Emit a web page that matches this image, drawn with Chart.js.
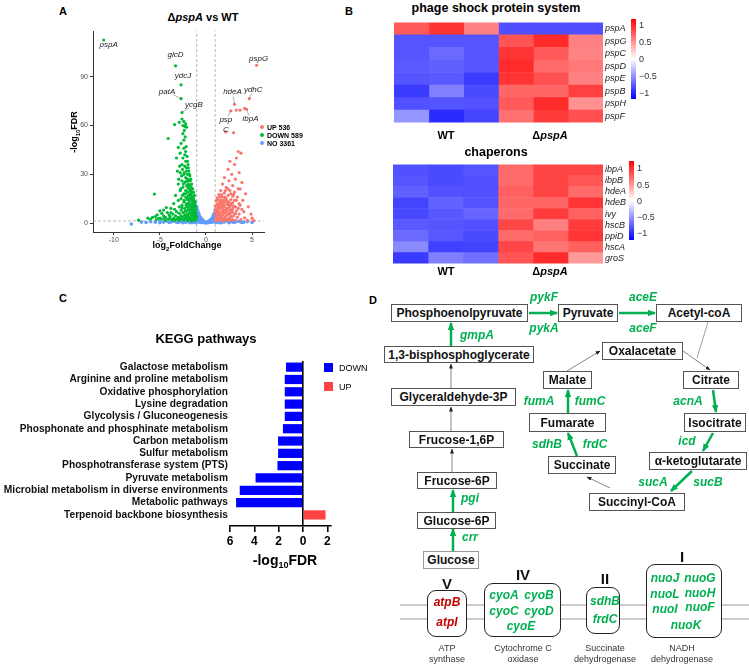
<!DOCTYPE html>
<html>
<head>
<meta charset="utf-8">
<script src="https://cdn.jsdelivr.net/npm/chart.js@4.4.1/dist/chart.umd.min.js"></script>
<style>
  body { margin: 0; background: #fff; font-family: "Liberation Sans", Arial, sans-serif; }
  #page { position: relative; width: 749px; height: 668px; overflow: hidden; }
  .abs { position: absolute; }
  .c { position: absolute; transform: translate(-50%, -50%); white-space: nowrap; }
  .lt { position: absolute; transform: translate(0, -50%); white-space: nowrap; }
  .tag { font-weight: bold; font-size: 11px; }
  .box { position: absolute; box-sizing: border-box; border: 1px solid #555; background: #fff;
         display: flex; align-items: center; justify-content: center; font-weight: bold; font-size: 12px; color: #111; }
  .gene { position: absolute; transform: translate(-50%, -50%); font-weight: bold; font-style: italic;
          font-size: 12px; color: #00B050; white-space: nowrap; }
  .cplx { position: absolute; box-sizing: border-box; border: 1.5px solid #222; border-radius: 9px; background: #fff; }
  .roman { position: absolute; transform: translate(-50%, -50%); font-weight: bold; font-size: 15px; color: #111; }
  .cap { position: absolute; transform: translate(-50%, 0); text-align: center; font-size: 9px; line-height: 11px; color: #333; white-space: nowrap; }
  .cb { position: absolute; width: 5px; }
  .cbl { position: absolute; font-size: 9px; color: #333; transform: translate(0, -50%); }
</style>
</head>
<body>
<div id="page">
  <!-- panel letters -->
  <div class="c tag" style="left:63px;top:11px;">A</div>
  <div class="c tag" style="left:349px;top:11px;">B</div>
  <div class="c tag" style="left:63px;top:298px;">C</div>
  <div class="c tag" style="left:373px;top:300px;">D</div>

  <!-- A: volcano -->
  <div class="c" style="left:203px;top:17px;font-size:11px;font-weight:bold;">&Delta;<i>pspA</i> vs WT</div>
  <div class="abs" style="left:30px;top:25px;width:245px;height:230px;"><canvas id="volcano"></canvas></div>
  <div class="c" style="left:75px;top:132px;transform:translate(-50%,-50%) rotate(-90deg);font-size:9px;font-weight:bold;">-log<sub style="font-size:6px;">10</sub>FDR</div>
  <div class="c" style="left:187px;top:246px;font-size:9px;font-weight:bold;">log<sub style="font-size:6px;">2</sub>FoldChange</div>
  <div class="abs" style="left:260px;top:125px;width:4px;height:4px;border-radius:2px;background:#F8766D;"></div>
  <div class="abs" style="left:260px;top:133px;width:4px;height:4px;border-radius:2px;background:#00BA38;"></div>
  <div class="abs" style="left:260px;top:141px;width:4px;height:4px;border-radius:2px;background:#619CFF;"></div>
  <div class="lt" style="left:267px;top:127px;font-size:7px;font-weight:bold;">UP 536</div>
  <div class="lt" style="left:267px;top:135px;font-size:7px;font-weight:bold;">DOWN 589</div>
  <div class="lt" style="left:267px;top:143px;font-size:7px;font-weight:bold;">NO 3361</div>

  <!-- B: heatmaps -->
  <div class="c" style="left:496px;top:8px;font-size:12.5px;font-weight:bold;">phage shock protein system</div>
  <div class="abs" style="left:390px;top:15px;width:260px;height:115px;"><canvas id="heatPsp"></canvas></div>
  <div class="c" style="left:446px;top:135px;font-size:11px;font-weight:bold;">WT</div>
  <div class="c" style="left:550px;top:135px;font-size:11px;font-weight:bold;">&Delta;<i>pspA</i></div>
  <div class="cb" style="left:631px;top:19px;height:80px;background:linear-gradient(#ff0000,#ffffff,#0000ff);"></div>
  <div class="cbl" style="left:639px;top:25px;">1</div>
  <div class="cbl" style="left:639px;top:42px;">0.5</div>
  <div class="cbl" style="left:639px;top:59px;">0</div>
  <div class="cbl" style="left:639px;top:76px;">&minus;0.5</div>
  <div class="cbl" style="left:639px;top:93px;">&minus;1</div>

  <div class="c" style="left:496px;top:152px;font-size:12.5px;font-weight:bold;">chaperons</div>
  <div class="abs" style="left:389px;top:157px;width:261px;height:114px;"><canvas id="heatChap"></canvas></div>
  <div class="c" style="left:446px;top:271px;font-size:11px;font-weight:bold;">WT</div>
  <div class="c" style="left:550px;top:271px;font-size:11px;font-weight:bold;">&Delta;<i>pspA</i></div>
  <div class="cb" style="left:629px;top:161px;height:79px;background:linear-gradient(#ff0000,#ffffff,#0000ff);"></div>
  <div class="cbl" style="left:637px;top:168px;">1</div>
  <div class="cbl" style="left:637px;top:185px;">0.5</div>
  <div class="cbl" style="left:637px;top:201px;">0</div>
  <div class="cbl" style="left:637px;top:217px;">&minus;0.5</div>
  <div class="cbl" style="left:637px;top:233px;">&minus;1</div>

  <!-- C: KEGG bars -->
  <div class="c" style="left:206px;top:338px;font-size:13px;font-weight:bold;">KEGG pathways</div>
  <div class="abs" style="left:0px;top:350px;width:345px;height:230px;"><canvas id="kegg"></canvas></div>
  <div class="c" style="left:285px;top:561px;font-size:14px;font-weight:bold;">-log<sub style="font-size:9px;">10</sub>FDR</div>
  <div class="abs" style="left:324px;top:363px;width:9px;height:9px;background:#0000FF;"></div>
  <div class="abs" style="left:324px;top:382px;width:9px;height:9px;background:#FF4343;"></div>
  <div class="lt" style="left:339px;top:368px;font-size:9px;">DOWN</div>
  <div class="lt" style="left:339px;top:387px;font-size:9px;">UP</div>

  <!-- D: pathway diagram -->
  <svg class="abs" style="left:0;top:0;" width="749" height="668">
    <defs>
      <marker id="gh" markerUnits="userSpaceOnUse" markerWidth="8" markerHeight="8" refX="7" refY="4" orient="auto">
        <path d="M0,0.8 L8,4 L0,7.2 Z" fill="#00B050"/>
      </marker>
      <marker id="kh" markerUnits="userSpaceOnUse" markerWidth="5" markerHeight="5" refX="4.5" refY="2.5" orient="auto">
        <path d="M0,0.5 L5,2.5 L0,4.5 Z" fill="#222"/>
      </marker>
    </defs>
    <line x1="400" y1="605" x2="749" y2="605" stroke="#999" stroke-width="1"/>
    <line x1="400" y1="619" x2="749" y2="619" stroke="#999" stroke-width="1"/>
    <g stroke="#00B050" stroke-width="2.5" marker-end="url(#gh)">
      <line x1="529" y1="313" x2="557" y2="313"/>
      <line x1="619" y1="313" x2="655" y2="313"/>
      <line x1="451" y1="346" x2="451" y2="323"/>
      <line x1="453" y1="512" x2="453" y2="490"/>
      <line x1="453" y1="551" x2="453" y2="529"/>
      <line x1="713" y1="390" x2="716" y2="412"/>
      <line x1="713" y1="433" x2="703" y2="451"/>
      <line x1="692" y1="471" x2="671" y2="491"/>
      <line x1="577" y1="456" x2="568" y2="433"/>
      <line x1="568" y1="413" x2="568" y2="390"/>
    </g>
    <g stroke="#555" stroke-width="0.7" marker-end="url(#kh)">
      <line x1="451" y1="388" x2="451" y2="364"/>
      <line x1="451" y1="431" x2="451" y2="407"/>
      <line x1="452" y1="472" x2="452" y2="449"/>
      <line x1="567" y1="371" x2="600" y2="351"/>
      <line x1="683" y1="351" x2="710" y2="370"/>
      <line x1="610" y1="488" x2="587" y2="477"/>
    </g>
    <line x1="708" y1="322" x2="697" y2="358" stroke="#777" stroke-width="0.7"/>
  </svg>

  <div class="box" style="left:391px;top:304px;width:137px;height:18px;">Phosphoenolpyruvate</div>
  <div class="box" style="left:558px;top:304px;width:60px;height:18px;">Pyruvate</div>
  <div class="box" style="left:656px;top:304px;width:86px;height:18px;">Acetyl-coA</div>
  <div class="box" style="left:384px;top:346px;width:150px;height:17px;">1,3-bisphosphoglycerate</div>
  <div class="box" style="left:602px;top:342px;width:81px;height:18px;">Oxalacetate</div>
  <div class="box" style="left:543px;top:371px;width:49px;height:18px;">Malate</div>
  <div class="box" style="left:683px;top:371px;width:56px;height:18px;">Citrate</div>
  <div class="box" style="left:391px;top:388px;width:125px;height:18px;">Glyceraldehyde-3P</div>
  <div class="box" style="left:529px;top:413px;width:77px;height:19px;">Fumarate</div>
  <div class="box" style="left:684px;top:413px;width:62px;height:19px;">Isocitrate</div>
  <div class="box" style="left:409px;top:431px;width:95px;height:17px;">Frucose-1,6P</div>
  <div class="box" style="left:548px;top:456px;width:68px;height:18px;">Succinate</div>
  <div class="box" style="left:649px;top:452px;width:98px;height:18px;">&alpha;-ketoglutarate</div>
  <div class="box" style="left:417px;top:472px;width:80px;height:17px;">Frucose-6P</div>
  <div class="box" style="left:589px;top:493px;width:96px;height:18px;">Succinyl-CoA</div>
  <div class="box" style="left:417px;top:512px;width:79px;height:17px;">Glucose-6P</div>
  <div class="box" style="left:423px;top:551px;width:56px;height:18px;border-color:#999;">Glucose</div>

  <div class="gene" style="left:544px;top:297px;">pykF</div>
  <div class="gene" style="left:544px;top:328px;">pykA</div>
  <div class="gene" style="left:643px;top:297px;">aceE</div>
  <div class="gene" style="left:643px;top:328px;">aceF</div>
  <div class="gene" style="left:477px;top:335px;">gmpA</div>
  <div class="gene" style="left:470px;top:498px;">pgi</div>
  <div class="gene" style="left:470px;top:537px;">crr</div>
  <div class="gene" style="left:688px;top:401px;">acnA</div>
  <div class="gene" style="left:687px;top:441px;">icd</div>
  <div class="gene" style="left:653px;top:482px;">sucA</div>
  <div class="gene" style="left:708px;top:482px;">sucB</div>
  <div class="gene" style="left:547px;top:444px;">sdhB</div>
  <div class="gene" style="left:595px;top:444px;">frdC</div>
  <div class="gene" style="left:539px;top:401px;">fumA</div>
  <div class="gene" style="left:590px;top:401px;">fumC</div>

  <div class="cplx" style="left:427px;top:590px;width:40px;height:47px;"></div>
  <div class="cplx" style="left:484px;top:583px;width:77px;height:54px;"></div>
  <div class="cplx" style="left:586px;top:587px;width:34px;height:47px;"></div>
  <div class="cplx" style="left:646px;top:564px;width:76px;height:74px;"></div>
  <div class="roman" style="left:447px;top:583px;">V</div>
  <div class="roman" style="left:523px;top:574px;">IV</div>
  <div class="roman" style="left:605px;top:578px;">II</div>
  <div class="roman" style="left:682px;top:556px;">I</div>
  <div class="gene" style="left:447px;top:602px;color:#C00000;">atpB</div>
  <div class="gene" style="left:447px;top:622px;color:#C00000;">atpI</div>
  <div class="gene" style="left:504px;top:595px;">cyoA</div>
  <div class="gene" style="left:539px;top:595px;">cyoB</div>
  <div class="gene" style="left:504px;top:611px;">cyoC</div>
  <div class="gene" style="left:539px;top:611px;">cyoD</div>
  <div class="gene" style="left:521px;top:626px;">cyoE</div>
  <div class="gene" style="left:605px;top:601px;">sdhB</div>
  <div class="gene" style="left:605px;top:619px;">frdC</div>
  <div class="gene" style="left:665px;top:578px;">nuoJ</div>
  <div class="gene" style="left:700px;top:578px;">nuoG</div>
  <div class="gene" style="left:665px;top:594px;">nuoL</div>
  <div class="gene" style="left:700px;top:593px;">nuoH</div>
  <div class="gene" style="left:665px;top:609px;">nuoI</div>
  <div class="gene" style="left:700px;top:607px;">nuoF</div>
  <div class="gene" style="left:686px;top:625px;">nuoK</div>
  <div class="cap" style="left:447px;top:643px;">ATP<br>synthase</div>
  <div class="cap" style="left:523px;top:643px;">Cytochrome C<br>oxidase</div>
  <div class="cap" style="left:605px;top:643px;">Succinate<br>dehydrogenase</div>
  <div class="cap" style="left:682px;top:643px;">NADH<br>dehydrogenase</div>
</div>

<script>
// ---------- A: volcano plot, points as [log2FC, -log10FDR]
const upPoints = [
  [5.5,97],[4.7,76.5],[4.4,70],[3.1,73],[2.7,69],[3.3,69.5],[3.7,69.5],[4.2,70.5],
  [2.15,56],[3.0,55.6],[3.5,44],[3.8,43],[3.3,40],[2.6,38],[3.1,36],[2.4,33],[3.6,31],[2.8,30],
  [2.0,28],[3.2,27],[2.5,26],[3.9,25],[1.8,24],[2.9,23],[2.2,22],[3.5,21],[3.7,21],[1.6,20],
  [2.6,20],[3.1,19],[2.0,18.5],[4.3,18],[1.4,17.5],[2.4,17],[2.9,16.5],[1.8,16],[3.4,16],
  [1.2,15.5],[2.2,15],[2.7,14.5],[1.6,14],[3.1,14],[4.0,14],[1.1,13.5],[2.0,13],[2.5,13],
  [1.4,12.5],[2.9,12.5],[3.6,12],[1.8,12],[1.2,11.5],[2.3,11.5],[1.6,11],[2.7,11],[3.7,11],
  [1.0,10.5],[2.0,10.5],[3.2,10],[1.4,10],[2.5,9.5],[1.8,9.5],[1.1,9],[2.2,9],[2.9,9],[3.9,8.5],
  [1.5,8.5],[1.9,8],[2.6,8],[1.2,7.5],[3.3,7.5],[1.7,7],[2.3,7],[2.9,6.5],[1.0,6.5],[1.5,6],
  [2.0,6],[2.6,5.5],[3.6,5.5],[4.9,5.5],[1.3,5],[1.8,5],[2.3,4.8],[3.0,4.5],[1.1,4.2],[1.6,4],
  [2.1,4],[2.7,3.8],[3.4,3.5],[4.2,3.2],[1.4,3.2],[1.9,3],[2.5,3],[1.2,2.6],[1.7,2.4],[2.2,2.4],
  [2.9,2.2],[3.8,2.2],[1.0,2],[1.5,1.8],[2.0,1.8],[2.6,1.7],[3.2,1.6],[4.5,1.6],[5.2,1.5],
  [1.3,1.5],[1.8,1.5],[2.4,1.5],[1.25,8],[1.45,9.5],[1.65,12.5],[1.85,14],[2.05,16],[2.25,13.5],
  [2.45,11],[2.65,6.5],[2.85,8],[1.35,6.8],[1.55,4.6],[1.75,10],[1.95,11.5],[2.15,7.5],[2.35,5.5],
  [2.55,10],[2.75,12],[1.15,3.6],[1.05,8],[1.3,14.5],[1.5,16],[1.7,17.5],[2.1,20],[2.4,21],
  [2.7,18],[3.0,17.5],[3.3,14],[3.5,9],[4.1,7],[4.6,10],[5.0,3],[1.9,6.5],[2.3,8.8],[1.6,2.6],
  [2.8,4.2],[3.2,5.8],[1.3,11],[1.9,9.8],[2.4,12.5],[3.0,10.5],[2.1,14.5],[1.55,13],[1.1,5.5]
];
const downPoints = [
  [-11.1,112.6],[-3.3,96.7],[-2.7,85],[-2.7,76.5],[-2.6,68],[-2.6,64],[-2.9,62],[-2.4,62.5],
  [-2.2,61],[-2.5,60],[-2.3,59.5],[-3.4,60.6],[-2.1,59],[-4.1,52],[-3.0,46.5],[-2.7,49],[-2.4,51],
  [-2.8,43],[-2.2,44],[-3.2,40],[-2.5,40],[-2.0,38],[-2.6,36],[-2.3,35],[-1.9,34],[-2.1,32],
  [-2.8,31],[-2.4,30],[-1.8,30],[-2.2,28],[-2.0,27],[-1.7,26],[-2.6,26],[-2.3,25],[-1.9,24],
  [-3.0,24],[-2.1,23],[-1.6,22],[-2.5,22],[-1.8,21],[-2.2,20],[-2.8,20],[-1.5,19],[-2.0,19],
  [-2.4,18],[-1.7,18],[-5.6,17.8],[-3.3,17],[-1.9,17],[-1.4,16],[-2.2,16],[-2.7,15],[-1.6,15],
  [-2.0,14.5],[-3.0,14],[-1.3,14],[-1.8,13.5],[-2.4,13],[-1.5,12.5],[-2.1,12],[-3.5,12],[-1.2,11.5],
  [-1.7,11],[-2.6,11],[-1.4,10.5],[-2.0,10],[-2.9,10],[-1.6,9.5],[-1.1,9],[-2.3,9],[-3.8,9],
  [-1.9,8.5],[-1.3,8],[-2.7,8],[-4.6,8],[-1.5,7.5],[-2.1,7.5],[-3.2,7],[-5.0,7.5],[-1.2,7],
  [-1.8,6.5],[-2.5,6.5],[-4.2,6.5],[-1.4,6],[-2.9,6],[-1.1,5.5],[-2.0,5.5],[-3.6,5.5],[-5.3,5],
  [-1.6,5],[-2.3,5],[-4.0,5],[-1.3,4.5],[-2.7,4.5],[-3.3,4.5],[-4.6,4.5],[-1.9,4],[-1.0,4],
  [-2.5,4],[-3.9,4],[-5.8,3.5],[-1.5,3.5],[-2.2,3.5],[-3.0,3.5],[-4.4,3.5],[-1.2,3],[-1.8,3],
  [-2.8,3],[-3.5,3],[-5.0,3],[-1.4,2.5],[-2.1,2.5],[-3.2,2.5],[-4.1,2.5],[-4.8,2.5],[-6.0,2.5],
  [-1.1,2],[-1.7,2],[-2.4,2],[-3.7,2],[-5.4,2],[-7.3,1.8],[-1.3,1.6],[-2.0,1.6],[-2.9,1.6],
  [-4.4,1.6],[-1.6,1.5],[-3.4,1.5],[-1.15,13],[-1.25,17],[-1.35,19],[-1.45,21],[-1.55,24],
  [-1.65,27],[-1.75,29],[-1.85,32],[-1.95,36],[-2.05,41],[-2.15,47],[-2.25,53],[-2.35,57],
  [-1.2,5],[-1.3,10],[-1.4,12],[-1.5,14],[-1.6,17],[-1.7,20],[-1.8,23],[-1.9,26],[-2.0,30],
  [-2.1,34],[-2.2,38],[-2.3,42],[-2.4,46],[-2.5,55],[-1.05,3],[-1.25,6.5],[-1.45,8.5],[-1.65,10.5],
  [-1.85,12],[-2.05,15.5],[-2.25,18],[-2.45,24],[-2.65,29],[-2.85,35],[-1.35,3.8],[-1.55,6.2],
  [-1.75,8],[-1.95,9.8],[-2.15,11],[-2.35,14],[-2.55,17],[-2.75,21],[-2.95,27],[-3.1,32],
  [-1.9,14.5],[-1.7,15.5],[-1.3,12],[-1.1,6.5],[-1.5,10],[-2.3,7],[-2.6,9.5],[-3.4,8.5],[-3.8,6.5],
  [-4.3,9.5],[-4.8,6],[-5.5,4],[-6.3,3],[-5.2,2.8],[-4.5,3],[-3.9,2.8],[-3.0,2.2],[-2.6,2.6],
  [-2.2,2.8],[-1.9,2.4],[-1.5,2.2],[-1.2,2.4],[-1.45,4.2],[-1.65,3.2],[-1.85,5.8],[-2.05,4.6],
  [-1.15,10.5],[-1.35,15],[-1.55,18.5],[-1.75,23],[-1.95,21.5],[-2.15,25.5],[-2.35,31],[-2.55,33]
];
const noPoints = [
  [-8.1,-0.6],[-6,0.8],[-5.5,0.5],[-5,1],[-4.6,0.6],[-4.2,1.1],[-3.8,0.7],[-3.5,1.2],[-3.2,0.5],
  [-2.9,1],[-2.6,0.7],[-2.4,1.2],[-2.2,0.5],[-2,1],[-1.8,0.6],[-1.6,1.2],[-1.4,0.8],[-1.2,0.4],
  [-1.0,1.1],[-0.8,0.7],[-0.6,0.4],[-0.4,0.3],[-0.2,0.2],[0,0.1],[0.2,0.2],[0.4,0.3],[0.6,0.5],
  [0.8,0.7],[1.0,1.0],[1.2,0.6],[1.4,1.1],[1.6,0.5],[1.8,1],[2.0,0.7],[2.3,1.2],[2.6,0.5],[2.9,1],
  [3.2,0.7],[3.5,1.1],[3.8,0.5],[4.1,0.6],[4.5,0.9],[5.0,0.4],
  [-1.0,2],[-1.0,4],[-1.0,6],[-1.0,8],[-0.98,10],[-0.95,3],[-0.95,5],[-0.95,7],[-0.9,2],[-0.9,4],
  [-0.9,6],[-0.9,8],[-0.85,3],[-0.85,5],[-0.85,6.5],[-0.8,1.5],[-0.8,3],[-0.8,4.5],[-0.8,6],
  [-0.75,2.5],[-0.75,4],[-0.75,5],[-0.7,1.5],[-0.7,3],[-0.7,4.2],[-0.65,2],[-0.65,3.5],[-0.6,1],
  [-0.6,2.5],[-0.6,3.5],[-0.55,2],[-0.5,1],[-0.5,2.5],[-0.45,1.8],[-0.4,1],[-0.4,2],[-0.35,1.4],
  [-0.3,0.8],[-0.3,1.5],[-0.25,1],[-0.2,0.6],[-0.15,0.8],[-0.1,0.4],
  [1.0,2],[1.0,4],[1.0,6],[0.98,8],[0.95,3],[0.95,5],[0.9,2],[0.9,4],[0.9,6],[0.85,3],[0.85,5],
  [0.8,1.5],[0.8,3],[0.8,4.5],[0.75,2.5],[0.75,3.8],[0.7,1.5],[0.7,3],[0.65,2],[0.6,1],[0.6,2.5],
  [0.55,1.8],[0.5,1],[0.5,2],[0.45,1.5],[0.4,0.8],[0.4,1.4],[0.35,1],[0.3,0.6],[0.3,1.1],[0.25,0.8],
  [0.2,0.5],[0.15,0.6],[0.1,0.3],
  [-1.5,0.3],[-1.3,1.4],[-1.1,0.2],[-1.2,1.6],[1.1,0.3],[1.3,1.4],[1.5,0.2],[1.2,1.5],[-2.5,0.2],
  [-3,0.3],[-4,0.3],[-5,0.2],[2.5,0.2],[3,0.3],[4,0.3],[1.7,0.2],[-1.7,0.2],[-6.5,0.3],[-7,0.6]
];
const fcCut = 1;
const fdrCut = 1.3;
const volcanoYTicks = [0, 30, 60, 90];
const volcanoXTicks = [-10, -5, 0, 5];

// labelled genes: name, anchor point
const tagNames = ['pspA', 'glcD', 'ydcJ', 'patA', 'ycgB', 'pspG', 'ydhC', 'hdeA', 'ibpA', 'psp\nC'];
const tagX = [-11.1, -3.3, -2.7, -2.7, -2.6, 5.5, 4.7, 3.1, 4.4, 2.7];
const tagY = [112.6, 96.7, 85, 76.5, 68, 97, 76.5, 73, 70, 69];
// label offsets in pixels: dx, dy, leader line?
const tagLayout = [[5,5,0],[0,-11,0],[2,-9,0],[-14,-7,1],[12,-8,1],[2,-7,0],[4,-9,1],[-2,-13,1],[4,10,1],[-5,9,1]];

// ---------- B: heatmaps (WT x3, ΔpspA x3)
const pspGenes = ['pspA', 'pspG', 'pspC', 'pspD', 'pspE', 'pspB', 'pspH', 'pspF'];
const pspValues = [
  [0.78, 0.96, 0.6, -0.83, -0.83, -0.83],
  [-0.8, -0.8, -0.8, 0.8, 1.0, 0.6],
  [-0.8, -0.7, -0.8, 0.95, 0.78, 0.58],
  [-0.78, -0.75, -0.8, 1.0, 0.7, 0.63],
  [-0.8, -0.78, -0.92, 0.95, 0.82, 0.6],
  [-0.92, -0.6, -0.85, 0.72, 0.72, 0.9],
  [-0.82, -0.8, -0.82, 0.78, 1.0, 0.52],
  [-0.5, -1.0, -0.88, 0.67, 0.92, 0.82]
];
const chapGenes = ['ibpA', 'ibpB', 'hdeA', 'hdeB', 'ivy', 'hscB', 'ppiD', 'hscA', 'groS'];
const chapValues = [
  [-0.82, -0.85, -0.8, 0.7, 0.88, 0.87],
  [-0.8, -0.85, -0.82, 0.7, 0.88, 0.8],
  [-0.75, -0.82, -0.82, 0.75, 0.88, 0.7],
  [-0.88, -0.74, -0.81, 0.72, 0.72, 0.95],
  [-0.86, -0.79, -0.72, 0.7, 0.92, 0.75],
  [-0.78, -0.8, -0.82, 0.87, 0.6, 0.92],
  [-0.7, -0.79, -0.85, 0.7, 0.75, 0.95],
  [-0.55, -0.9, -0.88, 0.87, 0.65, 0.75],
  [-0.93, -0.6, -0.67, 0.8, 1.0, 0.48]
];
const heatLimit = 1.2;

// ---------- C: KEGG pathways (-log10 FDR)
const keggTerms = ['Galactose metabolism', 'Arginine and proline metabolism', 'Oxidative phosphorylation',
  'Lysine degradation', 'Glycolysis / Gluconeogenesis', 'Phosphonate and phosphinate metabolism',
  'Carbon metabolism', 'Sulfur metabolism', 'Phosphotransferase system (PTS)', 'Pyruvate metabolism',
  'Microbial metabolism in diverse environments', 'Metabolic pathways', 'Terpenoid backbone biosynthesis'];
const keggDown = [1.4, 1.5, 1.5, 1.5, 1.5, 1.65, 2.05, 2.05, 2.1, 3.9, 5.2, 5.5, null];
const keggUp = [null, null, null, null, null, null, null, null, null, null, null, null, 1.85];
const keggTicks = [-6, -4, -2, 0, 2];

Chart.defaults.font.family = '"Liberation Sans", Arial, sans-serif';
Chart.defaults.animation = false;

const toXY = pts => pts.map(p => ({ x: p[0], y: p[1] }));

const geneTags = {
  id: 'geneTags',
  afterDatasetsDraw(chart) {
    const { ctx, scales: { x, y } } = chart;
    ctx.save();
    ctx.font = 'italic 8px "Liberation Sans", Arial';
    ctx.fillStyle = '#222';
    ctx.textAlign = 'center';
    ctx.textBaseline = 'middle';
    ctx.strokeStyle = '#666';
    ctx.lineWidth = 0.5;
    tagNames.forEach((name, i) => {
      const px = x.getPixelForValue(tagX[i]);
      const py = y.getPixelForValue(tagY[i]);
      const [dx, dy, lead] = tagLayout[i];
      if (lead) {
        ctx.beginPath();
        ctx.moveTo(px, py);
        ctx.lineTo(px + dx * 0.6, py + dy * 0.6);
        ctx.stroke();
      }
      name.split('\n').forEach((part, k) => ctx.fillText(part, px + dx, py + dy + k * 10));
    });
    ctx.restore();
  }
};

const yMinA = -5.5, yMaxA = 118, xMinA = -12.26, xMaxA = 6.3;
const guide = { type: 'line', showLine: true, borderColor: '#9a9a9a', borderWidth: 0.7, borderDash: [3, 2], pointRadius: 0, order: 5 };

new Chart(document.getElementById('volcano'), {
  type: 'scatter',
  data: {
    datasets: [
      { ...guide, data: [{ x: -fcCut, y: yMinA }, { x: -fcCut, y: yMaxA }] },
      { ...guide, data: [{ x: fcCut, y: yMinA }, { x: fcCut, y: yMaxA }] },
      { ...guide, data: [{ x: xMinA, y: fdrCut }, { x: xMaxA, y: fdrCut }] },
      { data: toXY(noPoints), backgroundColor: '#619CFF', pointRadius: 1.8, borderWidth: 0, order: 4 },
      { data: toXY(downPoints), backgroundColor: '#00BA38', pointRadius: 1.6, borderWidth: 0, order: 3 },
      { data: toXY(upPoints), backgroundColor: '#F8766D', pointRadius: 1.6, borderWidth: 0, order: 2 }
    ]
  },
  options: {
    responsive: true,
    maintainAspectRatio: false,
    layout: { padding: { top: 5, right: 11, left: 0, bottom: 0 } },
    plugins: { legend: { display: false }, tooltip: { enabled: false } },
    scales: {
      x: {
        type: 'linear', min: xMinA, max: xMaxA,
        afterFit(s) { s.height = 23; },
        afterBuildTicks(s) { s.ticks = volcanoXTicks.map(v => ({ value: v })); },
        grid: { drawOnChartArea: false, tickLength: 3, tickColor: '#333' },
        border: { color: '#333', width: 1 },
        ticks: { font: { size: 7 }, color: '#4d4d4d', padding: 1 }
      },
      y: {
        type: 'linear', min: yMinA, max: yMaxA,
        afterFit(s) { s.width = 63; },
        afterBuildTicks(s) { s.ticks = volcanoYTicks.map(v => ({ value: v })); },
        grid: { drawOnChartArea: false, tickLength: 3, tickColor: '#333' },
        border: { color: '#333', width: 1 },
        ticks: { font: { size: 7 }, color: '#4d4d4d', padding: 2 }
      }
    }
  },
  plugins: [geneTags]
});

// heatmap cell colour: blue - white - red
function heatColor(v) {
  const t = Math.max(-1, Math.min(1, v / heatLimit));
  const k = Math.round(255 * (1 - Math.abs(t)));
  return t >= 0 ? `rgb(255,${k},${k})` : `rgb(${k},${k},255)`;
}

function heatmap(id, genes, values, padLeft) {
  const cols = values[0].length;
  const datasets = [];
  for (let c = 0; c < cols; c++) {
    datasets.push({
      data: genes.map(() => [c, c + 1]),
      backgroundColor: values.map(row => heatColor(row[c])),
      borderWidth: 0,
      barPercentage: 1,
      categoryPercentage: 1,
      grouped: false
    });
  }
  new Chart(document.getElementById(id), {
    type: 'bar',
    data: { labels: genes, datasets },
    options: {
      indexAxis: 'y',
      responsive: true,
      maintainAspectRatio: false,
      layout: { padding: { left: padLeft, top: 4, bottom: 6, right: 0 } },
      plugins: { legend: { display: false }, tooltip: { enabled: false } },
      scales: {
        x: { type: 'linear', min: 0, max: cols, display: false },
        y: {
          position: 'right',
          afterFit(s) { s.width = 47; },
          grid: { display: false, drawTicks: false },
          border: { display: false },
          ticks: { font: { size: 9, style: 'italic' }, color: '#222', padding: 2, autoSkip: false }
        }
      }
    }
  });
}
heatmap('heatPsp', pspGenes, pspValues, 4);
heatmap('heatChap', chapGenes, chapValues, 4);

// KEGG horizontal bars; DOWN drawn to the left of zero
new Chart(document.getElementById('kegg'), {
  type: 'bar',
  data: {
    datasets: [
      { label: 'DOWN', data: keggDown.map((v, i) => (v == null ? null : { x: -v, y: i })).filter(Boolean),
        backgroundColor: '#0000FF', grouped: false, barPercentage: 0.75, categoryPercentage: 1 },
      { label: 'UP', data: keggUp.map((v, i) => (v == null ? null : { x: v, y: i })).filter(Boolean),
        backgroundColor: '#FF4343', grouped: false, barPercentage: 0.75, categoryPercentage: 1 }
    ]
  },
  options: {
    indexAxis: 'y',
    responsive: true,
    maintainAspectRatio: false,
    layout: { padding: { top: 11, right: 14, left: 0, bottom: 0 } },
    plugins: { legend: { display: false }, tooltip: { enabled: false } },
    scales: {
      x: {
        type: 'linear', min: -6, max: 2.3,
        afterFit(s) { s.height = 54; },
        afterBuildTicks(s) { s.ticks = keggTicks.map(v => ({ value: v })); },
        grid: {
          drawOnChartArea: true,
          color: c => (c.tick && c.tick.value === 0 ? '#000' : 'rgba(0,0,0,0)'),
          lineWidth: 1.6,
          tickColor: '#000',
          tickLength: 6
        },
        border: { color: '#000', width: 1.6 },
        ticks: { callback: v => Math.abs(v), font: { size: 12, weight: 'bold' }, color: '#000', padding: 2 }
      },
      y: {
        type: 'linear', reverse: true, min: -0.5, max: 12.9, offset: false,
        afterFit(s) { s.width = 230; },
        afterBuildTicks(s) { s.ticks = keggTerms.map((t, i) => ({ value: i })); },
        grid: { display: false, offset: false, drawTicks: false },
        border: { display: false },
        ticks: { callback: v => keggTerms[v], font: { size: 10.2, weight: 'bold' }, color: '#111', padding: 2, autoSkip: false }
      }
    }
  }
});
</script>
</body>
</html>
